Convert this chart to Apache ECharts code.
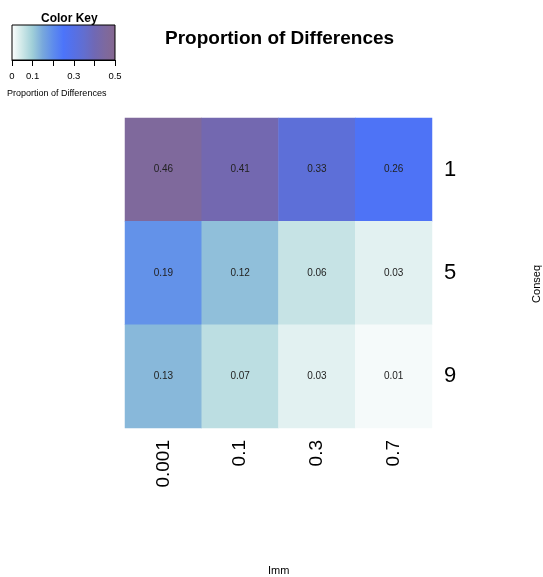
<!DOCTYPE html>
<html>
<head>
<meta charset="utf-8">
<script src="https://cdn.jsdelivr.net/npm/echarts@6/dist/echarts.min.js"></script>
<style>
  html, body { margin: 0; padding: 0; background: #fff; }
  #main { width: 543px; height: 577px; }
</style>
</head>
<body>
<div id="main"></div>
<script>
// data
var immCats = ['0.001', '0.1', '0.3', '0.7'];
var consegCats = ['1', '5', '9'];
var row1 = [0.46, 0.41, 0.33, 0.26];
var row5 = [0.19, 0.12, 0.06, 0.03];
var row9 = [0.13, 0.07, 0.03, 0.01];
var keyTickLabels = [0, 0.1, 0.3, 0.5];

// colour ramp, evenly spaced from 0 to 0.5
var ramp = ['#ffffff', '#cfe8e8', '#a0cfd8', '#78a8dc', '#5e8cec', '#4c74fa',
            '#5670e6', '#626ecf', '#7068b4', '#7d699f', '#86678f'];

var rows = [row1, row5, row9];
var cells = [];
rows.forEach(function (r, yi) {
    r.forEach(function (v, xi) {
        cells.push([xi, yi, v]);
    });
});

var stops = ramp.map(function (c, i) {
    return { offset: i / (ramp.length - 1), color: c };
});

var myChart = echarts.init(document.getElementById('main'));
var font = 'Liberation Sans, Arial, sans-serif';

var option = {
    backgroundColor: '#fff',
    textStyle: { fontFamily: font },
    title: [
        { text: 'Proportion of Differences', left: 160, top: 24,
          textStyle: { fontSize: 19, fontWeight: 'bold', color: '#000', fontFamily: font } },
        { text: 'Color Key', left: 36, top: 8,
          textStyle: { fontSize: 12, fontWeight: 'bold', color: '#000', fontFamily: font } }
    ],
    graphic: [
        { type: 'text', left: 7, top: 89,
          style: { text: 'Proportion of Differences', fontSize: 9, fill: '#000', font: '9px ' + font } },
        // rotated so it reads bottom to top
        { type: 'text', left: 531, top: 265, rotation: Math.PI / 2,
          style: { text: 'Conseq', fontSize: 11, fill: '#000', font: '11px ' + font } },
        { type: 'text', left: 268, top: 565,
          style: { text: 'Imm', fontSize: 11, fill: '#000', font: '11px ' + font } }
    ],
    visualMap: {
        show: false,
        type: 'continuous',
        min: 0,
        max: 0.5,
        seriesIndex: 0,
        inRange: { color: ramp }
    },
    grid: [
        { left: 125, top: 118, width: 307, height: 310, show: false },
        { left: 12, top: 25, width: 103, height: 35, show: true,
          borderColor: '#000', borderWidth: 1,
          backgroundColor: new echarts.graphic.LinearGradient(0, 0, 1, 0, stops) }
    ],
    xAxis: [
        { type: 'category', data: immCats, gridIndex: 0, position: 'bottom',
          axisLine: { show: false }, axisTick: { show: false }, splitLine: { show: false },
          axisLabel: { rotate: 90, fontSize: 19, color: '#000', margin: 12, fontFamily: font } },
        { type: 'value', gridIndex: 1, min: 0, max: 0.5, interval: 0.1,
          axisLine: { show: true, lineStyle: { color: '#000' } },
          axisTick: { show: true, length: 6, lineStyle: { color: '#000' } },
          splitLine: { show: false },
          axisLabel: { fontSize: 9.5, color: '#000', margin: 11, fontFamily: font,
            formatter: function (v) {
                var hit = keyTickLabels.some(function (t) { return Math.abs(t - v) < 1e-9; });
                return hit ? String(Math.round(v * 10) / 10) : '';
            } } }
    ],
    yAxis: [
        { type: 'category', data: consegCats, gridIndex: 0, inverse: true, position: 'right',
          axisLine: { show: false }, axisTick: { show: false }, splitLine: { show: false },
          axisLabel: { fontSize: 22, color: '#000', margin: 12, fontFamily: font } },
        { type: 'value', gridIndex: 1, show: false, min: 0, max: 1 }
    ],
    series: [{
        type: 'heatmap',
        xAxisIndex: 0,
        yAxisIndex: 0,
        data: cells,
        itemStyle: { borderWidth: 0 },
        label: {
            show: true,
            fontSize: 10,
            color: '#222',
            fontFamily: font,
            formatter: function (p) { return p.value[2].toFixed(2); }
        },
        emphasis: { disabled: true }
    }]
};

myChart.setOption(option);
</script>
</body>
</html>
